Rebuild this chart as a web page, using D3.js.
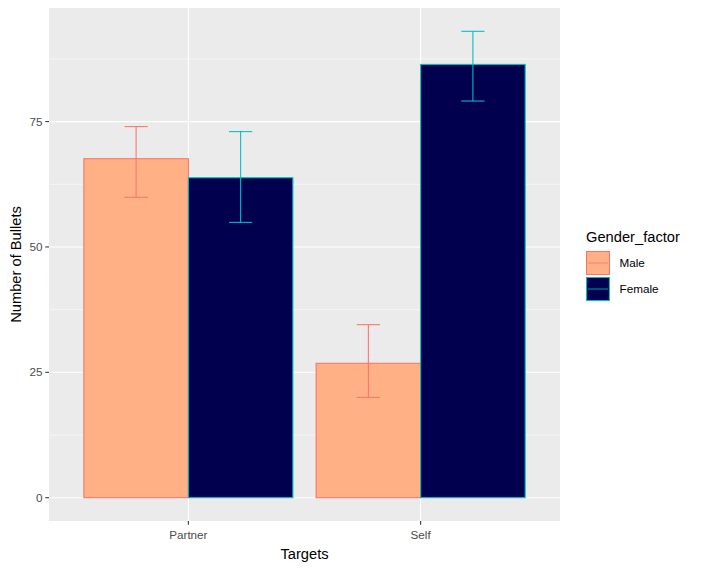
<!DOCTYPE html>
<html>
<head>
<meta charset="utf-8">
<script src="https://d3js.org/d3.v7.min.js"></script>
<title>Number of Bullets by Target</title>
<style>
body { margin: 0; background: #fff; }
svg { display: block; font-family: "Liberation Sans", Arial, sans-serif; }
</style>
</head>
<body>
<svg width="707" height="571"></svg>
<script>

// data
let targets = ["Partner", "Self"];
let genders = ["Male", "Female"];
let meanBullets = [[67.6, 63.8], [26.8, 86.4]];   // [target][gender]
let lowerBullets = [[59.9, 54.9], [20.0, 79.1]];
let upperBullets = [[74.0, 73.0], [34.5, 93.0]];
let yTicks = [0, 25, 50, 75];

let fills = ["#FFB185", "#00004F"];
let strokes = ["#F8766D", "#00BFC4"];

let svg = d3.select("svg");
let panelLeft = 49, panelRight = 560, panelTop = 8, panelBottom = 521;

// discrete x with ggplot-style padding of 0.6
let x = d3.scaleLinear().domain([0.4, targets.length + 0.6]).range([panelLeft, panelRight]);
let yMax = d3.max(upperBullets.flat());
let y = d3.scaleLinear().domain([-0.05 * yMax, 1.05 * yMax]).range([panelBottom, panelTop]);

svg.append("rect")
  .attr("x", panelLeft).attr("y", panelTop)
  .attr("width", panelRight - panelLeft).attr("height", panelBottom - panelTop)
  .attr("fill", "#EBEBEB");

// minor gridlines
let minor = yTicks.map(t => t + 12.5).filter(t => t < y.domain()[1]);
svg.selectAll(".minor").data(minor).enter().append("line")
  .attr("x1", panelLeft).attr("x2", panelRight)
  .attr("y1", d => y(d)).attr("y2", d => y(d))
  .attr("stroke", "#fff").attr("stroke-width", 0.55);

// major gridlines
svg.selectAll(".major").data(yTicks).enter().append("line")
  .attr("x1", panelLeft).attr("x2", panelRight)
  .attr("y1", d => y(d)).attr("y2", d => y(d))
  .attr("stroke", "#fff").attr("stroke-width", 1.1);
svg.selectAll(".vmajor").data(targets).enter().append("line")
  .attr("x1", (d, i) => x(i + 1)).attr("x2", (d, i) => x(i + 1))
  .attr("y1", panelTop).attr("y2", panelBottom)
  .attr("stroke", "#fff").attr("stroke-width", 1.1);

// bars
let barW = 0.45;
let rows = [];
targets.forEach((t, i) => genders.forEach((g, j) => {
  rows.push({ i: i, j: j, mean: meanBullets[i][j], lo: lowerBullets[i][j], hi: upperBullets[i][j] });
}));

svg.selectAll(".bar").data(rows).enter().append("rect")
  .attr("x", d => x(d.i + 1 - 0.45 + d.j * barW))
  .attr("y", d => y(d.mean))
  .attr("width", d => x(barW) - x(0))
  .attr("height", d => y(0) - y(d.mean))
  .attr("fill", d => fills[d.j])
  .attr("stroke", d => strokes[d.j])
  .attr("stroke-width", 1.07);

// error bars
let capW = 0.05;
rows.forEach(d => {
  let cx = x(d.i + 1 - 0.45 + d.j * barW + barW / 2);
  let half = x(capW) - x(0);
  let g = svg.append("g").attr("stroke", strokes[d.j]).attr("stroke-width", 1.07);
  g.append("line").attr("x1", cx).attr("x2", cx).attr("y1", y(d.lo)).attr("y2", y(d.hi));
  g.append("line").attr("x1", cx - half).attr("x2", cx + half)
    .attr("y1", y(d.lo)).attr("y2", y(d.lo));
  g.append("line").attr("x1", cx - half).attr("x2", cx + half)
    .attr("y1", y(d.hi)).attr("y2", y(d.hi));
});

// y axis
svg.selectAll(".ytick").data(yTicks).enter().append("line")
  .attr("x1", panelLeft - 3.7).attr("x2", panelLeft)
  .attr("y1", d => y(d)).attr("y2", d => y(d))
  .attr("stroke", "#333").attr("stroke-width", 1.07);
svg.selectAll(".ylab").data(yTicks).enter().append("text")
  .attr("x", panelLeft - 6.5).attr("y", d => y(d))
  .attr("dy", "0.35em").attr("text-anchor", "end")
  .attr("font-size", 11.7).attr("fill", "#4D4D4D")
  .text(d => d);

// x axis
svg.selectAll(".xtick").data(targets).enter().append("line")
  .attr("x1", (d, i) => x(i + 1)).attr("x2", (d, i) => x(i + 1))
  .attr("y1", panelBottom).attr("y2", panelBottom + 3.7)
  .attr("stroke", "#333").attr("stroke-width", 1.07);
svg.selectAll(".xlab").data(targets).enter().append("text")
  .attr("x", (d, i) => x(i + 1)).attr("y", panelBottom + 18)
  .attr("text-anchor", "middle")
  .attr("font-size", 11.7).attr("fill", "#4D4D4D")
  .text(d => d);

// axis titles
svg.append("text")
  .attr("x", (panelLeft + panelRight) / 2).attr("y", 559)
  .attr("text-anchor", "middle").attr("font-size", 14.7).attr("fill", "#000")
  .text("Targets");
svg.append("text")
  .attr("transform", "translate(21," + ((panelTop + panelBottom) / 2) + ") rotate(-90)")
  .attr("text-anchor", "middle").attr("font-size", 14.7).attr("fill", "#000")
  .text("Number of Bullets");

// legend
let lx = 586, ly = 251, key = 24;
svg.append("text")
  .attr("x", lx).attr("y", 241.5)
  .attr("font-size", 14.7).attr("fill", "#000")
  .text("Gender_factor");
genders.forEach((g, j) => {
  let ky = ly + j * (key + 2);
  svg.append("rect")
    .attr("x", lx + 0.5).attr("y", ky + 0.5)
    .attr("width", key - 1).attr("height", key - 1)
    .attr("fill", fills[j]).attr("stroke", strokes[j]).attr("stroke-width", 1.07);
  svg.append("line")
    .attr("x1", lx + 2).attr("x2", lx + key - 2)
    .attr("y1", ky + key / 2).attr("y2", ky + key / 2)
    .attr("stroke", strokes[j]).attr("stroke-width", 0.8);
  svg.append("text")
    .attr("x", lx + key + 9.5).attr("y", ky + key / 2)
    .attr("dy", "0.35em")
    .attr("font-size", 11.7).attr("fill", "#000")
    .text(g);
});

</script>
</body>
</html>
